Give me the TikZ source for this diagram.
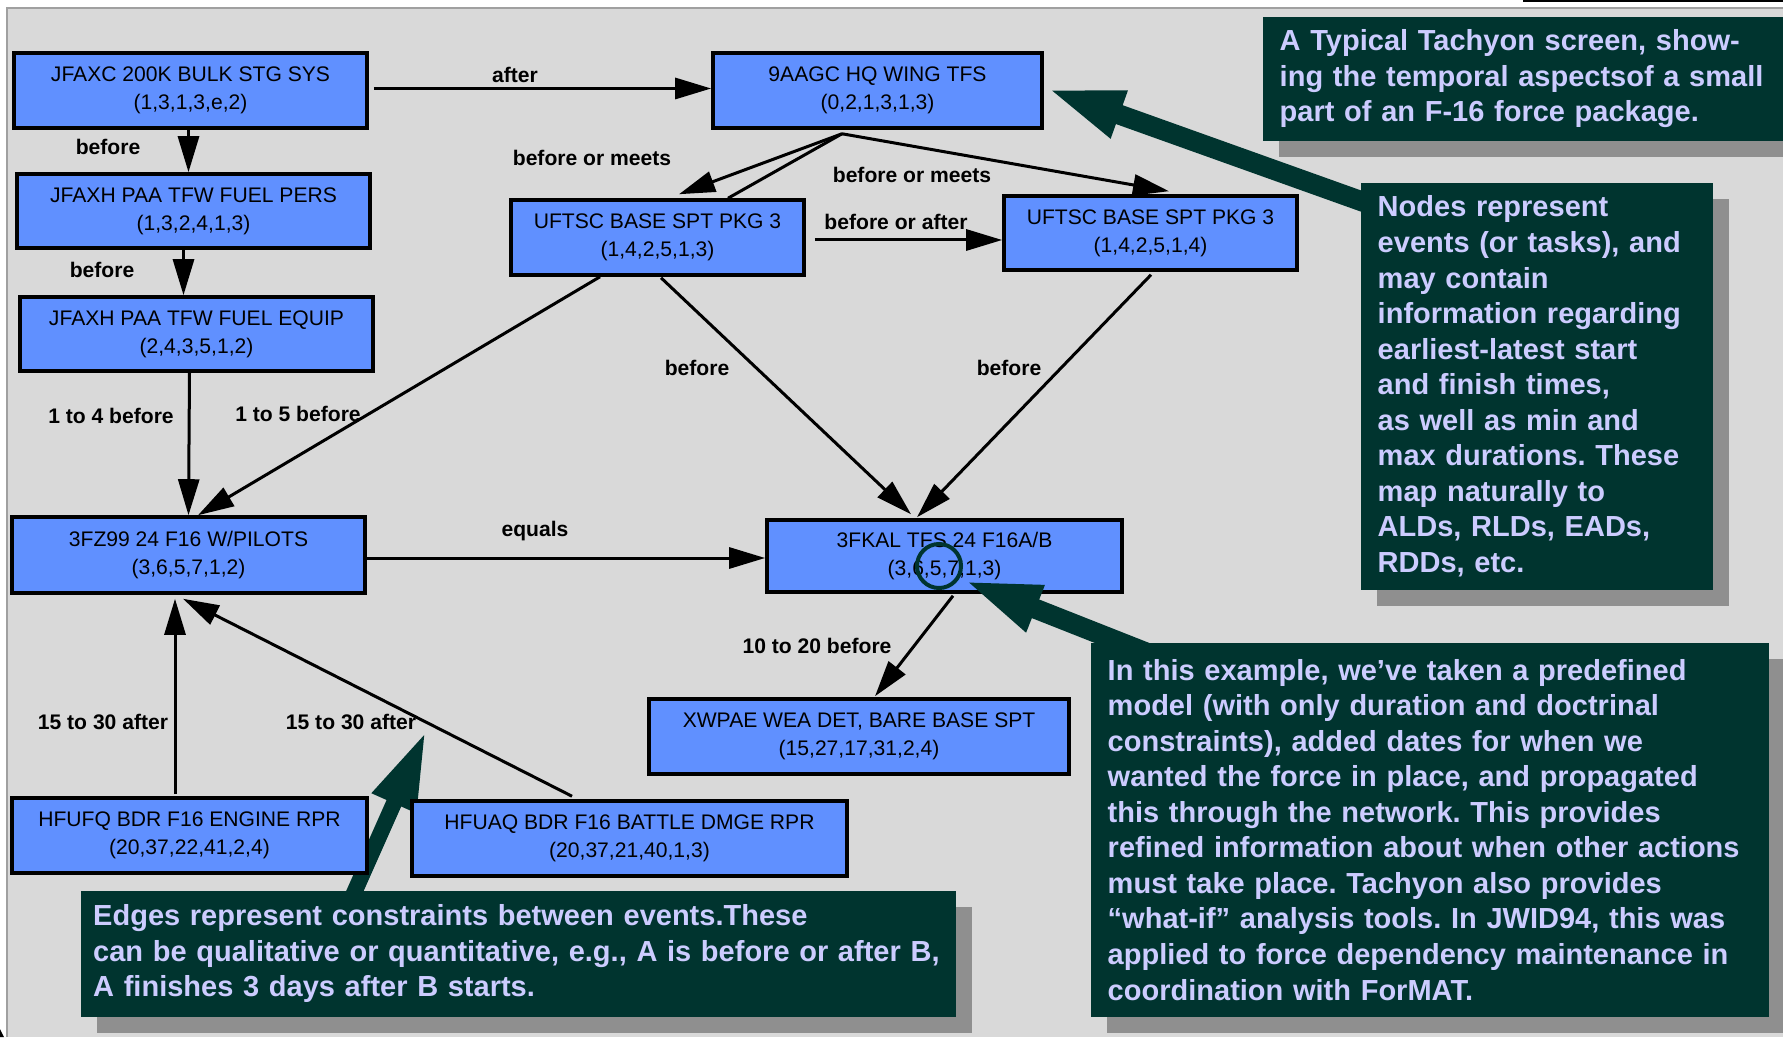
\documentclass[tikz,border=0pt]{standalone}
\usepackage{fontspec}
\setmainfont{Liberation Sans}
\usetikzlibrary{calc, arrows.meta, shadows}
\frenchspacing

\definecolor{panelgray}{RGB}{217,217,217}
\definecolor{framegray}{RGB}{160,160,160}
\definecolor{eventblue}{RGB}{96,144,255}
\definecolor{notegreen}{RGB}{0,52,47}
\definecolor{notetext}{RGB}{204,204,255}
\definecolor{shadegray}{RGB}{143,143,143}

\tikzset{
  event/.style={draw, line width=0.035cm, fill=eventblue, align=center, inner sep=0pt,
    font=\fontsize{6}{8}\selectfont},
  rel/.style={font=\fontsize{6}{8}\selectfont\bfseries},
  conn/.style={line width=0.03cm, -{Triangle[length=0.36cm,width=0.21cm]}},
  pointer/.style={line width=0.2cm, notegreen, -{Triangle[length=0.79cm,width=0.44cm]}},
  note/.style={fill=notegreen, text=notetext, align=left, anchor=north west,
    inner xsep=0.17cm, inner ysep=0pt, font=\fontsize{8.25}{10.1}\selectfont\bfseries,
    drop shadow={shadow xshift=0.16cm, shadow yshift=-0.16cm, fill=shadegray, opacity=1}},
}

\begin{document}
\begin{tikzpicture}[x=0.01cm, y=-0.01cm]
    \useasboundingbox (0,0) rectangle (1783,1037);
    % screen panel
    \fill[panelgray] (6,8) rectangle (1783,1037);
    \draw[framegray, line width=0.025cm] (7,1037) -- (7,8) -- (1783,8);
    \draw[line width=0.02cm] (1523,1) -- (1783,1);
    \fill (0,1029) -- (4,1037) -- (0,1037) -- cycle;

    % pointer of the edges note, under the boxes
    \coordinate (edgetip) at (426,731);
    \coordinate (edgefoot) at (350,902);
    \draw[pointer, line width=0.16cm] (edgefoot) -- (edgetip);

    % events
    \node[event, minimum width=3.53cm, minimum height=0.75cm] (jfaxc) at (190.5,90.5) {JFAXC 200K BULK STG SYS\\(1,3,1,3,e,2)};
    \node[event, minimum width=3.53cm, minimum height=0.74cm] (pers) at (193.5,211) {JFAXH PAA TFW FUEL PERS\\(1,3,2,4,1,3)};
    \node[event, minimum width=3.53cm, minimum height=0.74cm] (equip) at (196.5,334) {JFAXH PAA TFW FUEL EQUIP\\(2,4,3,5,1,2)};
    \node[event, minimum width=3.29cm, minimum height=0.75cm] (hq) at (877.5,90.5) {9AAGC HQ WING TFS\\(0,2,1,3,1,3)};
    \node[event, minimum width=2.93cm, minimum height=0.75cm] (pkgA) at (657.5,237.5) {UFTSC BASE SPT PKG 3\\(1,4,2,5,1,3)};
    \node[event, minimum width=2.93cm, minimum height=0.74cm] (pkgB) at (1150.5,233) {UFTSC BASE SPT PKG 3\\(1,4,2,5,1,4)};
    \node[event, minimum width=3.53cm, minimum height=0.76cm] (pilots) at (188.5,555) {3FZ99 24 F16 W/PILOTS\\(3,6,5,7,1,2)};
    \node[event, minimum width=3.55cm, minimum height=0.72cm] (tfs) at (944.5,556) {3FKAL TFS 24 F16A/B\\(3,6,5,7,1,3)};
    \node[event, minimum width=4.20cm, minimum height=0.75cm] (wea) at (859,736.5) {XWPAE WEA DET, BARE BASE SPT\\(15,27,17,31,2,4)};
    \node[event, minimum width=3.55cm, minimum height=0.75cm] (engine) at (189.5,835.5) {HFUFQ BDR F16 ENGINE RPR\\(20,37,22,41,2,4)};
    \node[event, minimum width=4.35cm, minimum height=0.75cm] (battle) at (629.5,838.5) {HFUAQ BDR F16 BATTLE DMGE RPR\\(20,37,21,40,1,3)};

    % constraints
    \draw[conn] ($(jfaxc.east)+(5,-2)$) coordinate (a1) -- (a1 -| hq.west);
    \draw[conn] ($(jfaxc.south)+(-2,0)$) coordinate (b1) -- (b1 |- pers.north);
    \draw[conn] ($(pers.south)+(-10,0)$) coordinate (c1) -- (c1 |- equip.north);
    \draw[conn] ($(equip.south)+(-7,0)$) -- (pilots.north);
    \draw[conn] ($(pkgA.south)+(-57.5,0)$) -- ($(pilots.north)+(9.5,0)$);
    \coordinate (hqfoot) at ($(hq.south)+(-35.5,4)$);
    \draw[conn] (hqfoot) -- ($(pkgA.north)+(21.5,-4)$);
    \draw[line width=0.03cm] (hqfoot) -- ($(pkgA.north)+(70.5,0)$);
    \draw[conn] (hqfoot) -- ($(pkgB.north)+(18.5,-3)$);
    \draw[conn] ($(pkgA.east)+(9,2.5)$) coordinate (h1) -- (h1 -| pkgB.west);
    \draw[conn] ($(pkgA.south)+(3.5,1)$) -- ($(tfs.north)+(-33.5,-4)$);
    \draw[conn] ($(pkgB.south)+(0.5,3)$) -- ($(tfs.north)+(-27.5,-1)$);
    \draw[conn] ($(pilots.east)+(0,3)$) coordinate (k1) -- (k1 -| tfs.west);
    \draw[conn] ($(tfs.south)+(8.5,2)$) -- ($(wea.north)+(16,-1)$);
    \draw[conn] ($(engine.north)+(-14.5,-2)$) coordinate (m1) -- ($(m1 |- pilots.south)+(0,4)$);
    \draw[conn] ($(battle.north)+(-57.5,-3)$) -- ($(pilots.south)+(-5.5,4)$);

    \node[rel] (l-after) at (515,75) {after};
    \node[rel] (l-before1) at (108,147) {before};
    \node[rel] (l-before2) at (102,270) {before};
    \node[rel] (l-meets1) at (592,158) {before or meets};
    \node[rel] (l-meets2) at (912,175) {before or meets};
    \node[rel] (l-orafter) at (896,222) {before or after};
    \node[rel] (l-before3) at (697,368) {before};
    \node[rel] (l-before4) at (1009,368) {before};
    \node[rel] (l-onefour) at (111,416) {1 to 4 before};
    \node[rel] (l-onefive) at (298,414) {1 to 5 before};
    \node[rel] (l-equals) at (535,531) {equals};
    \node[rel] (l-tentwenty) at (817,646) {10 to 20 before};
    \node[rel] (l-after1) at (103,722) {15 to 30 after};
    \node[rel] (l-after2) at (351,722) {15 to 30 after};

    % pointers of the notes
    \coordinate (nodesfoot) at (1372,205);
    \draw[pointer] (nodesfoot) -- ($(hq.east)+(1,-2.5)$);
    \coordinate (examplefoot) at (1150,654);
    \draw[pointer] (examplefoot) -- ($(tfs.south)+(17.5,-14)$);
    \draw[notegreen, line width=0.04cm] ($(tfs.center)+(-5.5,10)$) circle[radius=0.22cm];

    % notes
    \node[note, text width=5.06cm, minimum width=5.40cm, minimum height=1.24cm] (screennote) at (1262,16)
        {A Typical Tachyon screen, show-\\ing the temporal aspectsof a small\\part of an F-16 force package.};
    \node[note, text width=3.18cm, minimum width=3.52cm, minimum height=4.07cm] (nodesnote) at (1360,182)
        {Nodes represent\\events (or tasks), and\\may contain\\information regarding\\earliest-latest start\\and finish times,\\as well as min and\\max durations. These\\map naturally to\\ALDs, RLDs, EADs,\\RDDs, etc.};
    \node[note, text width=6.44cm, minimum width=6.78cm, minimum height=3.74cm] (examplenote) at (1090,642)
        {In this example, we’ve taken a predefined\\model (with only duration and doctrinal\\constraints), added dates for when we\\wanted the force in place, and propagated\\this through the network. This provides\\refined information about when other actions\\must take place. Tachyon also provides\\“what-if” analysis tools. In JWID94, this was\\applied to force dependency maintenance in\\coordination with ForMAT.};
    \node[note, inner xsep=0.125cm, text width=8.5cm, minimum width=8.75cm, minimum height=1.26cm] (edgesnote) at (80,890)
        {Edges represent constraints between events.These\\can be qualitative or quantitative, e.g., A is before or after B,\\A finishes 3 days after B starts.};
\end{tikzpicture}
\end{document}
